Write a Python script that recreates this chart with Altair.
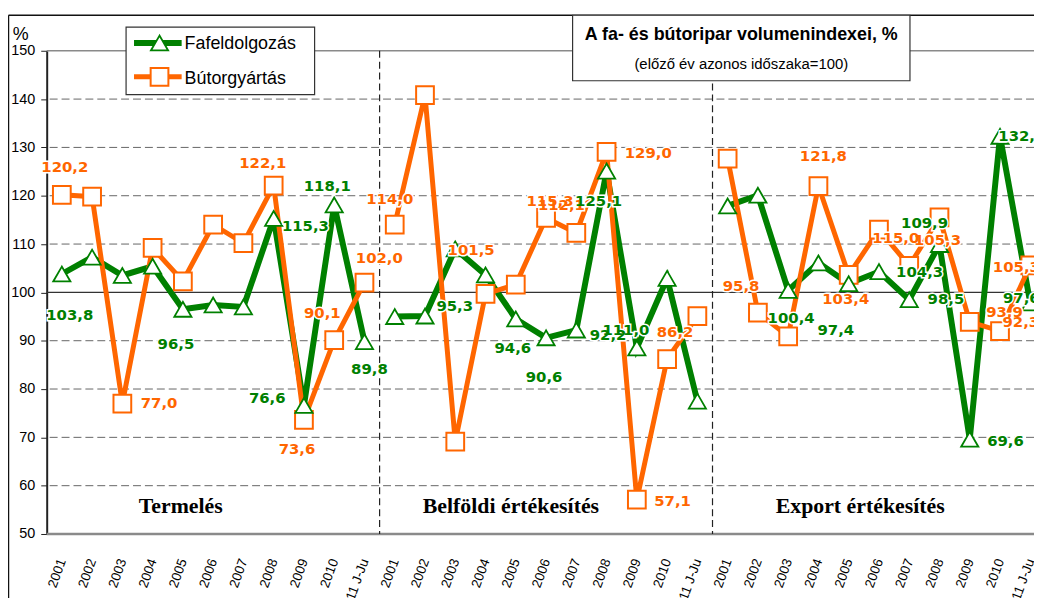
import altair as alt
import pandas as pd

# ---------------- data ----------------
years = ["2001", "2002", "2003", "2004", "2005", "2006", "2007", "2008", "2009", "2010", "2011 J-Ju"]
groups = ["Termelés", "Belföldi értékesítés", "Export értékesítés"]
series_names = ["Fafeldolgozás", "Bútorgyártás"]
series_colors = ["#008000", "#FF6600"]

faf_termeles = [103.8, 107.3, 103.5, 105.4, 96.5, 97.4, 97.0, 115.3, 76.6, 118.1, 89.8]
but_termeles = [120.2, 119.8, 77.0, 109.2, 102.3, 114.0, 110.2, 122.1, 73.6, 90.1, 102.0]
faf_belfoldi = [95.0, 95.1, 109.0, 103.6, 94.5, 90.6, 92.2, 125.1, 88.5, 102.9, 77.5]
but_belfoldi = [114.0, 140.8, 69.1, 99.7, 101.6, 115.4, 112.3, 129.1, 57.1, 86.2, 95.1]
faf_export = [117.9, 120.1, 100.4, 106.1, 101.8, 104.3, 98.5, 109.9, 69.6, 132.3, 97.8]
but_export = [127.7, 95.8, 90.9, 122.0, 103.6, 113.0, 105.5, 115.5, 93.9, 92.0, 105.6]

y_ticks = list(range(50, 151, 10))
grid_dashed = [60, 70, 80, 90, 110, 120, 130, 140]

# data labels as printed on the original: text, series, category index
label_texts = [
    ("120,2", 1, 0), ("122,1", 1, 7), ("118,1", 0, 9), ("115,3", 0, 7), ("102,0", 1, 10),
    ("103,8", 0, 0), ("96,5", 0, 4), ("77,0", 1, 2), ("76,6", 0, 8), ("73,6", 1, 8),
    ("90,1", 1, 9), ("89,8", 0, 10),
    ("114,0", 1, 11), ("101,5", 1, 15), ("95,3", 0, 12), ("115,3", 1, 16), ("112,1", 1, 17),
    ("125,1", 0, 18), ("129,0", 1, 18), ("94,6", 0, 15), ("90,6", 0, 16), ("92,2", 0, 17),
    ("111,0", 0, 19), ("86,2", 1, 20), ("57,1", 1, 19),
    ("95,8", 1, 23), ("121,8", 1, 25), ("100,4", 0, 24), ("97,4", 0, 26), ("103,4", 1, 26),
    ("105,3", 1, 29), ("115,0", 1, 27), ("109,9", 0, 29), ("104,3", 0, 27), ("98,5", 0, 28),
    ("69,6", 0, 30), ("132,3", 0, 31), ("105,3", 1, 32), ("93,9", 1, 30), ("92,3", 1, 31),
    ("97,6", 0, 32),
]
# pixel offsets of each label from its point (layout)
label_offsets = [
    (3, -28), (-11, -23), (-7, -19), (32, 8), (15, -25),
    (8, 41), (-7, 35), (37, 0), (-37, -7), (-7, 29),
    (-12, -27), (5, 28),
    (-5, -26), (-45, -35), (30, -10), (4, -17), (-15, -28),
    (-8, 30), (42, 1), (-3, 29), (-2, 40), (32, 5),
    (-11, -18), (8, -27), (36, 1),
    (-17, -27), (5, -30), (3, 28), (-13, 47), (-3, 24),
    (-2, 23), (17, 9), (-15, -22), (41, 0), (37, -1),
    (36, 2), (22, 0), (-14, 2), (35, -10), (21, -9),
    (-9, -5),
]
group_label_x = [3.93, 14.84, 26.38]
group_label_y = 55.7

# ---------------- tables ----------------
n = len(years)
rows = []
for g, (f, b) in enumerate([(faf_termeles, but_termeles), (faf_belfoldi, but_belfoldi), (faf_export, but_export)]):
    for k, yl in enumerate(years):
        rows.append({"idx": g * n + k, "year": yl, "group": groups[g], "series": series_names[0], "value": f[k]})
        rows.append({"idx": g * n + k, "year": yl, "group": groups[g], "series": series_names[1], "value": b[k]})
df = pd.DataFrame(rows)

W, H = 995, 487
PXX = 30.5
XMIN = -0.5
XMAX = XMIN + W / PXX
PXY = H / 100.0

lab_rows = []
for (txt, s, i), (dx, dy) in zip(label_texts, label_offsets):
    v = df[(df.idx == i) & (df.series == series_names[s])].value.iloc[0]
    lab_rows.append({"text": txt, "series": series_names[s], "x": i + dx / PXX, "y": v - dy / PXY})
lab_df = pd.DataFrame(lab_rows)

grp_df = pd.DataFrame({"name": groups, "x": group_label_x, "y": [group_label_y] * 3})
sep_df = pd.DataFrame({"x": [n * k - 0.5 for k in (1, 2)]})

x_scale = alt.Scale(domain=[XMIN, XMAX], nice=False, zero=False)
y_scale = alt.Scale(domain=[50, 150], nice=False, zero=False)
color_scale = alt.Scale(domain=series_names, range=series_colors)

label_expr = "[" + ",".join("'%s'" % y for y in years) + "][datum.value % " + str(n) + "]"

x_axis = alt.Axis(values=list(range(3 * n)), labelExpr=label_expr, labelAngle=290, labelAlign="right",
                  labelBaseline="middle", labelFontSize=13.5, labelFont="Liberation Sans", labelColor="black",
                  labelPadding=25, ticks=False, domain=False, grid=False, title=None, labelOverlap=False,
                  labelFlush=False, labelBound=False)
y_axis = alt.Axis(values=y_ticks, grid=False, domainColor="#222", domainWidth=2, tickColor="#222", tickSize=6,
                  labelFontSize=14.5, labelFont="Liberation Sans", labelColor="black", labelPadding=6, title=None)


def X(field):
    return alt.X(field, scale=x_scale, axis=x_axis)


def Y(field):
    return alt.Y(field, scale=y_scale, axis=y_axis)


one = pd.DataFrame({"a": [0]})

# grid
grid = alt.Chart(pd.DataFrame({"v": grid_dashed})).mark_rule(stroke="#666", strokeDash=[8, 4], strokeWidth=1).encode(
    y=Y("v:Q"))
rule100 = alt.Chart(pd.DataFrame({"v": [100]})).mark_rule(stroke="#333", strokeWidth=1.3).encode(y=Y("v:Q"))
rule150 = alt.Chart(pd.DataFrame({"v": [150]})).mark_rule(stroke="#8a8a8a", strokeWidth=1.5).encode(y=Y("v:Q"))
rule50 = alt.Chart(pd.DataFrame({"v": [50]})).mark_rule(stroke="#8a8a8a", strokeWidth=2.5).encode(y=Y("v:Q"))
seps = alt.Chart(sep_df).mark_rule(stroke="#222", strokeDash=[7, 4], strokeWidth=1.2).encode(x=X("x:Q"))

base = alt.Chart(df)
line_f = base.transform_filter(alt.datum.series == series_names[0]).mark_line(
    color=series_colors[0], strokeWidth=6).encode(x=X("idx:Q"), y=Y("value:Q"), detail="group:N")
line_b = base.transform_filter(alt.datum.series == series_names[1]).mark_line(
    color=series_colors[1], strokeWidth=5).encode(x=X("idx:Q"), y=Y("value:Q"), detail="group:N")
pts_b = base.transform_filter(alt.datum.series == series_names[1]).mark_point(
    shape="square", size=320, filled=True, fill="white", stroke=series_colors[1], strokeWidth=2, opacity=1).encode(
    x=X("idx:Q"), y=Y("value:Q"))
pts_f = base.transform_filter(alt.datum.series == series_names[0]).mark_point(
    shape="triangle-up", size=300, filled=True, fill="white", stroke=series_colors[0], strokeWidth=1.8,
    opacity=1).encode(x=X("idx:Q"), y=Y("value:Q"))

halo = alt.Chart(lab_df).mark_text(font="DejaVu Sans", fontWeight="bold", fontSize=15, fill="white",
                                   stroke="white", strokeWidth=3).encode(
    x=X("x:Q"), y=Y("y:Q"), text="text:N")
labels = alt.Chart(lab_df).mark_text(font="DejaVu Sans", fontWeight="bold", fontSize=15).encode(
    x=X("x:Q"), y=Y("y:Q"), text="text:N",
    color=alt.Color("series:N", scale=color_scale, legend=None))

grp_text = alt.Chart(grp_df).mark_text(font="Liberation Serif", fontWeight="bold", fontSize=22,
                                       color="black").encode(x=X("x:Q"), y=Y("y:Q"), text="name:N")

# frame and boxes
frame_l = alt.Chart(one).mark_rule(stroke="#111", strokeWidth=1.5).encode(
    x=alt.value(-38.5), y=alt.value(-35.8), y2=alt.value(H + 90))
frame_t = alt.Chart(one).mark_rule(stroke="#111", strokeWidth=1.5).encode(
    x=alt.value(-38.5), x2=alt.value(W + 10), y=alt.value(-35.8))
pct = alt.Chart(one).mark_text(font="Liberation Sans", fontSize=18, color="black").encode(
    x=alt.value(-26.3), y=alt.value(-16), text=alt.value("%"))

leg_box = alt.Chart(one).mark_rect(fill="white", stroke="#333", strokeWidth=1.2).encode(
    x=alt.value(80), x2=alt.value(270), y=alt.value(-23.8), y2=alt.value(44.2))
leg_l1 = alt.Chart(one).mark_rule(color=series_colors[0], strokeWidth=6).encode(
    x=alt.value(88), x2=alt.value(136), y=alt.value(-7.8))
leg_l2 = alt.Chart(one).mark_rule(color=series_colors[1], strokeWidth=5).encode(
    x=alt.value(88), x2=alt.value(136), y=alt.value(26.2))
leg_p1 = alt.Chart(one).mark_point(shape="triangle-up", size=300, filled=True, fill="white",
                                   stroke=series_colors[0], strokeWidth=1.8, opacity=1).encode(
    x=alt.value(113.7), y=alt.value(-7.8))
leg_p2 = alt.Chart(one).mark_point(shape="square", size=320, filled=True, fill="white",
                                   stroke=series_colors[1], strokeWidth=2, opacity=1).encode(
    x=alt.value(113.7), y=alt.value(26.2))
leg_t1 = alt.Chart(one).mark_text(align="left", baseline="middle", font="Liberation Sans", fontSize=18,
                                  color="black").encode(x=alt.value(139), y=alt.value(-6.8),
                                                        text=alt.value(series_names[0]))
leg_t2 = alt.Chart(one).mark_text(align="left", baseline="middle", font="Liberation Sans", fontSize=18,
                                  color="black").encode(x=alt.value(139), y=alt.value(28.2),
                                                        text=alt.value(series_names[1]))

title_box = alt.Chart(one).mark_rect(fill="white", stroke="#333", strokeWidth=1.2).encode(
    x=alt.value(530), x2=alt.value(870), y=alt.value(-35.8), y2=alt.value(30.2))
title_t = alt.Chart(one).mark_text(align="center", baseline="middle", font="Liberation Sans", fontSize=18,
                                   fontWeight="bold", color="black").encode(
    x=alt.value(700), y=alt.value(-15.5), text=alt.value("A fa- és bútoripar volumenindexei, %"))
sub_t = alt.Chart(one).mark_text(align="center", baseline="middle", font="Liberation Sans", fontSize=15,
                                 color="black").encode(
    x=alt.value(700), y=alt.value(12.9), text=alt.value("(előző év azonos időszaka=100)"))

chart = alt.layer(
    grid, rule150, rule50, rule100, seps,
    line_f, line_b, pts_b, pts_f,
    halo, labels, grp_text,
    frame_l, frame_t, pct,
    leg_box, leg_l1, leg_l2, leg_p1, leg_p2, leg_t1, leg_t2,
    title_box, title_t, sub_t,
).properties(
    width=W, height=H,
    autosize=alt.AutoSizeParams(type="none"),
    padding={"left": 39, "top": 40.8, "right": 0, "bottom": 62},
    background="white",
).configure_view(strokeWidth=0)

chart.save("out.html", embed_options={"renderer": "svg", "actions": False})
